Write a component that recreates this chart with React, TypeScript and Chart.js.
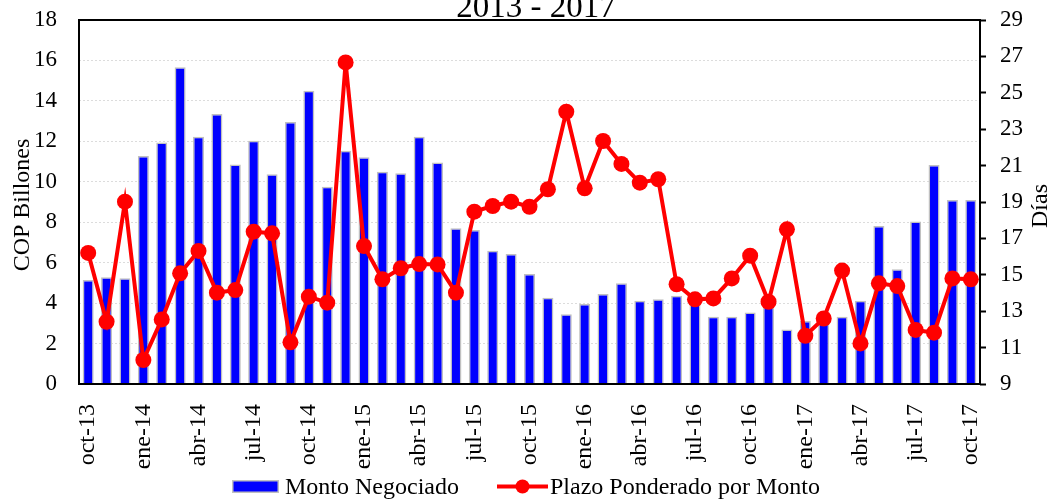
import React, { useEffect, useRef } from "react";
import { Chart, registerables } from "chart.js";

Chart.register(...registerables);

const categories: string[] = [
  "oct-13", "nov-13", "dic-13",
  "ene-14", "feb-14", "mar-14", "abr-14", "may-14", "jun-14", "jul-14", "ago-14", "sep-14", "oct-14", "nov-14", "dic-14",
  "ene-15", "feb-15", "mar-15", "abr-15", "may-15", "jun-15", "jul-15", "ago-15", "sep-15", "oct-15", "nov-15", "dic-15",
  "ene-16", "feb-16", "mar-16", "abr-16", "may-16", "jun-16", "jul-16", "ago-16", "sep-16", "oct-16", "nov-16", "dic-16",
  "ene-17", "feb-17", "mar-17", "abr-17", "may-17", "jun-17", "jul-17", "ago-17", "sep-17", "oct-17",
];

const montoNegociado: number[] = [
  5.14, 5.28, 5.23, 11.28, 11.94, 15.66, 12.23, 13.35, 10.85, 12.03,
  10.37, 12.96, 14.5, 9.76, 11.54, 11.21, 10.5, 10.42, 12.23, 10.95,
  7.7, 7.62, 6.59, 6.43, 5.44, 4.27, 3.45, 3.96, 4.45, 4.98,
  4.12, 4.19, 4.37, 4.3, 3.33, 3.33, 3.53, 4.1, 2.7, 3.12,
  3.3, 3.33, 4.12, 7.81, 5.67, 8.03, 10.83, 9.1, 9.1,
];

const plazoPonderado: number[] = [
  16.2, 12.42, 19.02, 10.32, 12.55, 15.08, 16.31, 14.02, 14.16, 17.37,
  17.28, 11.29, 13.8, 13.47, 26.67, 16.58, 14.75, 15.36, 15.59, 15.57,
  14.02, 18.47, 18.78, 19.02, 18.74, 19.7, 23.96, 19.75, 22.35, 21.09,
  20.06, 20.25, 14.48, 13.65, 13.7, 14.8, 16.05, 13.52, 17.5, 11.65,
  12.6, 15.23, 11.23, 14.53, 14.38, 11.97, 11.82, 14.8, 14.75,
];

const titleText = "2013 - 2017";
const leftAxisTitle = "COP Billones";
const rightAxisTitle = "Días";
const barLabel = "Monto Negociado";
const lineLabel = "Plazo Ponderado por Monto";

const FONT = "'Liberation Serif', 'Times New Roman', serif";
const BLUE = "#0000FF";
const RED = "#FF0000";
const BAR_BORDER = "#c0c0c0";

const decorPlugin = {
  id: "decor",
  afterDraw(chart: any) {
    const { ctx, chartArea } = chart;
    ctx.save();
    // frame
    ctx.strokeStyle = "#000";
    ctx.lineWidth = 2;
    ctx.strokeRect(chartArea.left, chartArea.top, chartArea.right - chartArea.left, chartArea.bottom - chartArea.top);

    ctx.fillStyle = "#000";
    // title (partially clipped at top)
    ctx.font = `33px ${FONT}`;
    ctx.textAlign = "center";
    ctx.textBaseline = "alphabetic";
    ctx.fillText(titleText, 536, 17);

    // left axis title
    ctx.font = `24px ${FONT}`;
    ctx.save();
    ctx.translate(29, (chartArea.top + chartArea.bottom) / 2 + 3);
    ctx.rotate(-Math.PI / 2);
    ctx.textAlign = "center";
    ctx.textBaseline = "alphabetic";
    ctx.fillText(leftAxisTitle, 0, 0);
    ctx.restore();

    // right axis title
    ctx.save();
    ctx.translate(1047, 206);
    ctx.rotate(-Math.PI / 2);
    ctx.textAlign = "center";
    ctx.textBaseline = "alphabetic";
    ctx.fillText(rightAxisTitle, 0, 0);
    ctx.restore();

    // legend
    const ly = 486.5;
    ctx.fillStyle = BLUE;
    ctx.fillRect(232, 480, 47, 13);
    ctx.strokeStyle = BAR_BORDER;
    ctx.lineWidth = 1.5;
    ctx.strokeRect(232.75, 480.75, 45.5, 11.5);
    ctx.fillStyle = "#000";
    ctx.font = `24px ${FONT}`;
    ctx.textAlign = "left";
    ctx.textBaseline = "alphabetic";
    ctx.fillText(barLabel, 285, 494);

    ctx.strokeStyle = RED;
    ctx.lineWidth = 4;
    ctx.beginPath();
    ctx.moveTo(497, ly);
    ctx.lineTo(548, ly);
    ctx.stroke();
    ctx.fillStyle = RED;
    ctx.beginPath();
    ctx.arc(522.5, ly, 7, 0, Math.PI * 2);
    ctx.fill();
    ctx.fillStyle = "#000";
    ctx.fillText(lineLabel, 550, 494);
    ctx.restore();
  },
};

export default function App() {
  const canvasRef = useRef<HTMLCanvasElement | null>(null);

  useEffect(() => {
    if (!canvasRef.current) return;
    const chart = new Chart(canvasRef.current, {
      type: "bar",
      data: {
        labels: categories,
        datasets: [
          {
            type: "line",
            label: lineLabel,
            data: plazoPonderado,
            yAxisID: "y1",
            borderColor: RED,
            backgroundColor: RED,
            borderWidth: 4,
            pointRadius: 8,
            pointBorderWidth: 0,
            pointBackgroundColor: RED,
            tension: 0,
            order: 0,
          } as any,
          {
            type: "bar",
            label: barLabel,
            data: montoNegociado,
            yAxisID: "y",
            backgroundColor: BLUE,
            borderColor: BAR_BORDER,
            borderWidth: 1.5,
            barPercentage: 0.6,
            categoryPercentage: 1,
            order: 1,
          } as any,
        ],
      },
      options: {
        responsive: false,
        animation: false,
        layout: { padding: { top: 20, left: 0, right: 0, bottom: 0 } },
        plugins: {
          legend: { display: false },
          title: { display: false },
          tooltip: { enabled: false },
        },
        scales: {
          x: {
            grid: { display: false },
            border: { display: false },
            ticks: {
              autoSkip: false,
              maxRotation: 90,
              minRotation: 90,
              padding: 12,
              color: "#000",
              font: { family: FONT, size: 24 },
              callback: (_v: any, i: number) => (i % 3 === 0 ? categories[i] : ""),
            },
            afterFit: (scale: any) => {
              scale.height = 115;
              scale.paddingLeft = 0;
              scale.paddingRight = 0;
            },
          },
          y: {
            position: "left",
            min: 0,
            max: 18,
            ticks: {
              stepSize: 2,
              padding: 22,
              color: "#000",
              font: { family: FONT, size: 23 },
            },
            grid: {
              drawTicks: false,
              color: (c: any) =>
                c.tick && (c.tick.value === 0 || c.tick.value === 18) ? "rgba(0,0,0,0)" : "#dcdcdc",
              lineWidth: 1,
            },
            border: { display: false, dash: [2, 2] },
            afterFit: (scale: any) => {
              scale.width = 79;
              scale.paddingTop = 0;
              scale.paddingBottom = 0;
            },
          },
          y1: {
            position: "right",
            min: 9,
            max: 29,
            ticks: {
              stepSize: 2,
              padding: 14,
              color: "#000",
              font: { family: FONT, size: 23 },
            },
            grid: {
              drawOnChartArea: false,
              drawTicks: true,
              tickLength: 6,
              tickColor: "#000",
              tickWidth: 2,
            },
            border: { display: false },
            afterFit: (scale: any) => {
              scale.width = 70;
              scale.paddingTop = 0;
              scale.paddingBottom = 0;
            },
          },
        },
      } as any,
      plugins: [decorPlugin],
    });
    return () => chart.destroy();
  }, []);

  return (
    <div style={{ position: "fixed", left: 0, top: 0, width: 1050, height: 499, background: "#fff" }}>
      <canvas ref={canvasRef} width={1050} height={499} style={{ width: 1050, height: 499, display: "block" }} />
    </div>
  );
}
